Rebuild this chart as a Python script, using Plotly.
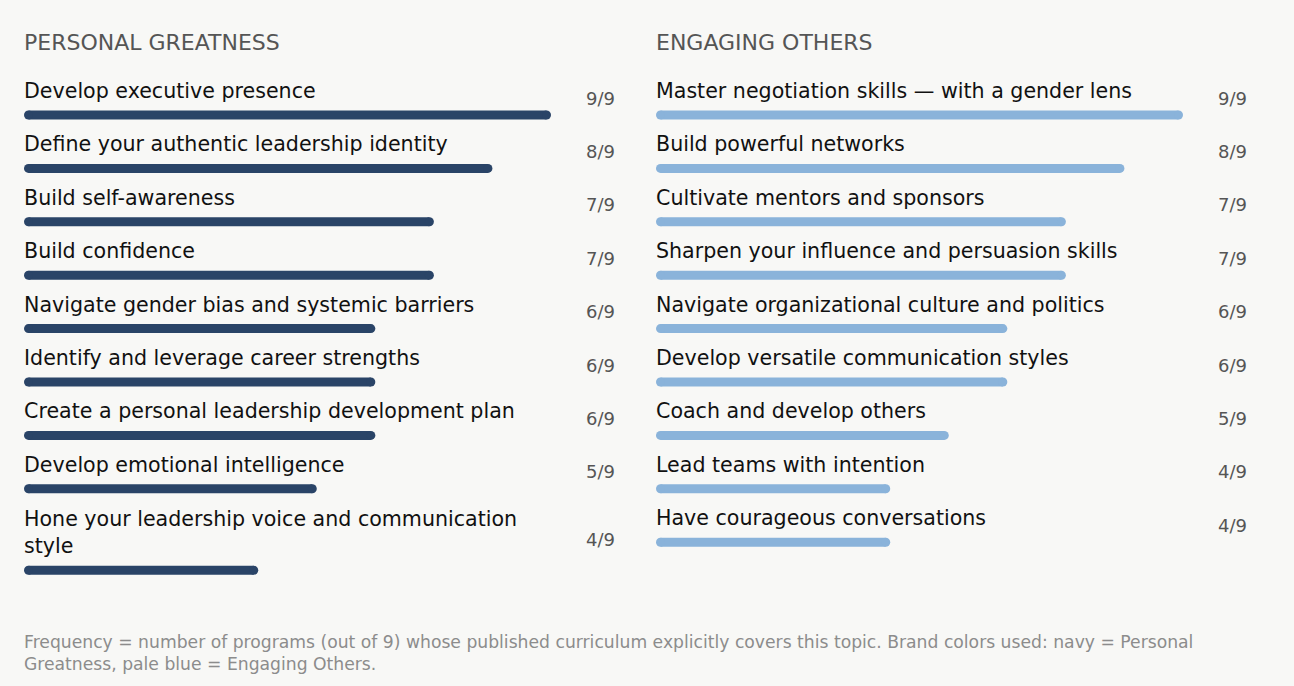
import plotly.graph_objects as go

# ---------------- data ----------------
TOTAL = 9
left_title = "PERSONAL GREATNESS"
left_labels = [
    "Develop executive presence",
    "Define your authentic leadership identity",
    "Build self-awareness",
    "Build confidence",
    "Navigate gender bias and systemic barriers",
    "Identify and leverage career strengths",
    "Create a personal leadership development plan",
    "Develop emotional intelligence",
    "Hone your leadership voice and communication<br>style",
]
left_values = [9, 8, 7, 7, 6, 6, 6, 5, 4]

right_title = "ENGAGING OTHERS"
right_labels = [
    "Master negotiation skills — with a gender lens",
    "Build powerful networks",
    "Cultivate mentors and sponsors",
    "Sharpen your influence and persuasion skills",
    "Navigate organizational culture and politics",
    "Develop versatile communication styles",
    "Coach and develop others",
    "Lead teams with intention",
    "Have courageous conversations",
]
right_values = [9, 8, 7, 7, 6, 6, 5, 4, 4]

footnote = ("Frequency = number of programs (out of 9) whose published curriculum explicitly covers this topic. "
            "Brand colors used: navy = Personal<br>Greatness, pale blue = Engaging Others.")

# ---------------- style ----------------
W, H = 1294, 686
BG = "#f8f8f6"
NAVY = "#2a4467"
PALE = "#8ab3da"
FONT = "DejaVu Sans"
LABEL_SIZE = 20.6
LINE_H = 28
ROW_PITCH = 53.4
FIRST_ROW = 91
BAR_THICK = 9
XSHIFT = -2

fig = go.Figure()

panels = [
    dict(title=left_title, labels=left_labels, values=left_values, color=NAVY,
         x0=24, x1=551, frac_x=600, xa="x", ya="y"),
    dict(title=right_title, labels=right_labels, values=right_values, color=PALE,
         x0=656, x1=1183, frac_x=1232, xa="x2", ya="y2"),
]

annotations = []
for p in panels:
    label_y, bar_y, frac_y = [], [], []
    extra = 0
    for i, lab in enumerate(p["labels"]):
        nlines = lab.count("<br>") + 1
        top_center = FIRST_ROW + ROW_PITCH * i + extra
        last_center = top_center + (nlines - 1) * LINE_H
        label_y.append((top_center + last_center) / 2)
        bar_y.append(last_center + 24)
        frac_y.append((top_center + last_center) / 2 + 7)
        extra += (nlines - 1) * LINE_H

    vals = p["values"]
    # rounded-end bars: thick line between the two cap centres, plus round caps
    r = (BAR_THICK / 2) / ((p["x1"] - p["x0"]) / TOTAL)
    xs, ys = [], []
    for v, by in zip(vals, bar_y):
        xs += [r, v - r, None]
        ys += [by, by, None]
    fig.add_trace(go.Scatter(
        x=xs, y=ys, mode="lines+markers",
        line=dict(color=p["color"], width=BAR_THICK),
        marker=dict(color=p["color"], size=BAR_THICK, symbol="circle", line=dict(width=0)),
        xaxis=p["xa"], yaxis=p["ya"], hoverinfo="skip", showlegend=False, connectgaps=False))

    for lab, ly, fy, v in zip(p["labels"], label_y, frac_y, vals):
        annotations.append(dict(
            text=lab, xref=p["xa"], yref=p["ya"], x=0, y=ly, xshift=XSHIFT,
            xanchor="left", yanchor="middle", align="left", showarrow=False,
            font=dict(family=FONT, size=LABEL_SIZE, color="#111111")))
        annotations.append(dict(
            text=f"{v}/{TOTAL}", xref="paper", yref=p["ya"], x=p["frac_x"] / W, y=fy,
            xanchor="center", yanchor="middle", showarrow=False,
            font=dict(family=FONT, size=18, color="#555555")))

    annotations.append(dict(
        text=p["title"], xref="paper", yref=p["ya"], x=p["x0"] / W, y=42, xshift=XSHIFT,
        xanchor="left", yanchor="middle", showarrow=False,
        font=dict(family=FONT, size=22, color="#555555")))

annotations.append(dict(
    text=footnote, xref="paper", yref="paper", x=24 / W, y=1 - 630 / H, xshift=XSHIFT,
    xanchor="left", yanchor="top", align="left", showarrow=False,
    font=dict(family=FONT, size=17.2, color="#8c8c8c")))

axis_common = dict(showgrid=False, zeroline=False, showticklabels=False, showline=False,
                   ticks="", fixedrange=True)
fig.update_layout(
    width=W, height=H, margin=dict(l=0, r=0, t=0, b=0),
    paper_bgcolor=BG, plot_bgcolor=BG,
    xaxis=dict(domain=[24 / W, 551 / W], range=[0, TOTAL], anchor="y", **axis_common),
    xaxis2=dict(domain=[656 / W, 1183 / W], range=[0, TOTAL], anchor="y2", **axis_common),
    yaxis=dict(domain=[0, 1], range=[H, 0], anchor="x", **axis_common),
    yaxis2=dict(domain=[0, 1], range=[H, 0], anchor="x2", **axis_common),
    annotations=annotations,
)

fig.write_html("out.html", config=dict(displayModeBar=False),
               post_script="document.body.style.margin='0';document.body.style.background='" + BG + "';")
